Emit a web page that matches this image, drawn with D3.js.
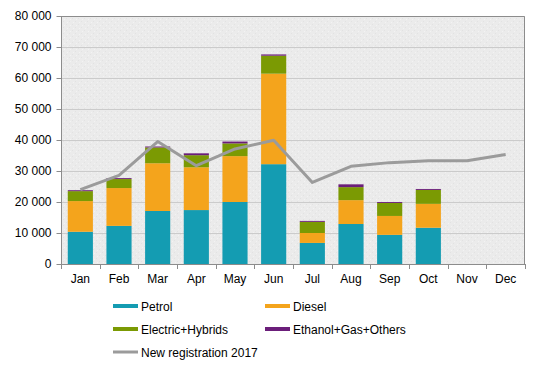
<!DOCTYPE html>
<html><head><meta charset="utf-8">
<script src="https://cdn.jsdelivr.net/npm/d3@7"></script>
<style>body{margin:0;background:#fff}svg{display:block;font-family:"Liberation Sans",Arial,sans-serif}</style>
</head><body><svg id="c" width="541" height="370"></svg>
<script>
const months = ["Jan","Feb","Mar","Apr","May","Jun","Jul","Aug","Sep","Oct","Nov","Dec"];
const petrol   = [10400,12300,17100,17400,20000,32200,6800,12900,9400,11700,null,null];
const diesel   = [9900,12200,15400,13800,14800,29200,3200,7700,6100,7700,null,null];
const electric = [3200,2900,5100,3900,4100,5800,3600,4200,4200,4500,null,null];
const ethanol  = [300,300,300,600,600,400,300,900,300,300,null,null];
const reg2017  = [24000,28600,39500,31700,37100,39900,26300,31500,32700,33300,33300,35300];
const yTicks = [0,10000,20000,30000,40000,50000,60000,70000,80000];
const seriesNames = ["Petrol","Diesel","Electric+Hybrids","Ethanol+Gas+Others"];
const colors = ["#149cb2","#f4a41c","#7b9a03","#6b1e7a"];
const lineName = "New registration 2017";
const lineColor = "#9b9b9b";

const svg = d3.select("#c");
const m = {l:61, r:525, t:16, b:264};
const x = d3.scaleBand().domain(months).range([m.l, m.r]).paddingInner(0.35).paddingOuter(0.175);
const xb = d3.scaleBand().domain(months).range([m.l, m.r]);
const y = d3.scaleLinear().domain([0,80000]).range([m.b, m.t]);

const defs = svg.append("defs");
const pat = defs.append("pattern").attr("id","dots").attr("width",6).attr("height",6).attr("patternUnits","userSpaceOnUse");
pat.append("rect").attr("width",6).attr("height",6).attr("fill","#ebebeb");
pat.append("rect").attr("x",0).attr("y",0).attr("width",1).attr("height",1).attr("fill","#e2e2e2");
pat.append("rect").attr("x",3).attr("y",3).attr("width",1).attr("height",1).attr("fill","#e2e2e2");
pat.append("rect").attr("x",1).attr("y",4).attr("width",1).attr("height",1).attr("fill","#f3f3f3");
pat.append("rect").attr("x",4).attr("y",1).attr("width",1).attr("height",1).attr("fill","#f3f3f3");

svg.append("rect").attr("x",m.l).attr("y",m.t).attr("width",m.r-m.l).attr("height",m.b-m.t).attr("fill","url(#dots)");

// grid
svg.append("g").selectAll("line").data(yTicks.slice(1)).join("line")
  .attr("x1",m.l).attr("x2",m.r).attr("y1",d=>y(d)+0.5).attr("y2",d=>y(d)+0.5)
  .attr("stroke","#cbcbcb").attr("stroke-width",1);

// stacked bars
const data = months.map((mo,i)=>({m:mo, s0:petrol[i]||0, s1:diesel[i]||0, s2:electric[i]||0, s3:ethanol[i]||0}));
const stack = d3.stack().keys(["s0","s1","s2","s3"])(data);
svg.append("g").selectAll("g").data(stack).join("g").attr("fill",(d,i)=>colors[i])
  .selectAll("rect").data(d=>d.filter(v=>v[1]>v[0])).join("rect")
  .attr("x",d=>x(d.data.m)).attr("width",x.bandwidth())
  .attr("y",d=>y(d[1])).attr("height",d=>y(d[0])-y(d[1]));

// line
const line = d3.line().x((d,i)=>xb(months[i])+xb.bandwidth()/2).y(d=>y(d));
svg.append("path").datum(reg2017).attr("d",line).attr("fill","none")
  .attr("stroke",lineColor).attr("stroke-width",3).attr("stroke-linejoin","round");

// frame
svg.append("path").attr("d",`M${m.l},${m.t+0.5}H${m.r-0.5}V${m.b}`).attr("fill","none").attr("stroke","#8c8c8c").attr("stroke-width",1);

// y axis
const ya = svg.append("g").attr("transform",`translate(${m.l+0.5},0)`)
  .call(d3.axisLeft(y).tickValues(yTicks).tickSize(5).tickPadding(5)
    .tickFormat(d=>d3.format(",")(d).replace(/,/g," ")));
ya.select(".domain").attr("stroke","#8c8c8c").attr("d",`M0,${m.t}V${m.b}`);
ya.selectAll(".tick line").attr("stroke","#8c8c8c");
ya.selectAll("text").attr("font-size",12).attr("fill","#000").attr("font-family","Liberation Sans, Arial, sans-serif");

// x axis
const xa = svg.append("g").attr("transform",`translate(0,${m.b+0.5})`)
  .call(d3.axisBottom(xb).tickSize(0).tickPadding(10));
xa.select(".domain").attr("stroke","#8c8c8c").attr("d",`M${m.l},0H${m.r}`);
xa.selectAll("text").attr("font-size",12).attr("fill","#000").attr("font-family","Liberation Sans, Arial, sans-serif");
const bounds = months.map(mo=>xb(mo)).concat([m.r]);
svg.append("g").selectAll("line").data(bounds).join("line")
  .attr("x1",d=>Math.round(d)+0.5).attr("x2",d=>Math.round(d)+0.5).attr("y1",m.b).attr("y2",m.b+5)
  .attr("stroke","#8c8c8c");

// legend
const leg = [
  {n:seriesNames[0], c:colors[0], x:113, y:306, t:"bar"},
  {n:seriesNames[1], c:colors[1], x:265, y:306, t:"bar"},
  {n:seriesNames[2], c:colors[2], x:113, y:329, t:"bar"},
  {n:seriesNames[3], c:colors[3], x:265, y:329, t:"bar"},
  {n:lineName, c:lineColor, x:113, y:352, t:"line"}
];
const lg = svg.append("g").selectAll("g").data(leg).join("g");
lg.append("rect").attr("x",d=>d.x).attr("y",d=>d.t==="bar"?d.y-2:d.y-1.5)
  .attr("width",25).attr("height",d=>d.t==="bar"?4:3).attr("fill",d=>d.c);
lg.append("text").attr("x",d=>d.x+28).attr("y",d=>d.y+4.5).attr("font-size",12).attr("fill","#000").text(d=>d.n);
</script></body></html>
